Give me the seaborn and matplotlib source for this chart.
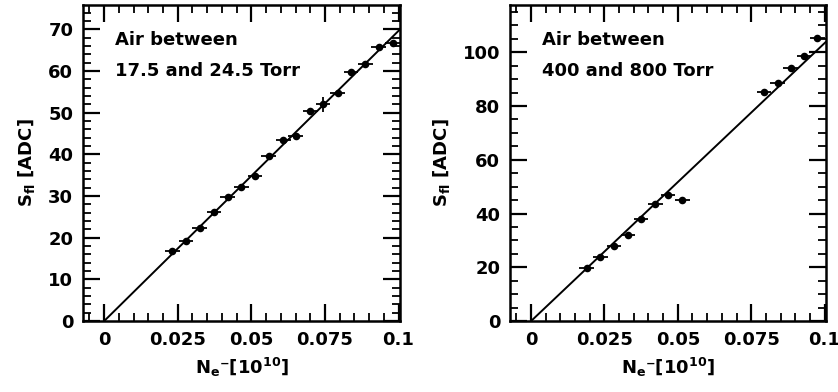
import numpy as np
import pandas as pd
import matplotlib
matplotlib.use("Agg")
import matplotlib.pyplot as plt
from matplotlib.ticker import MultipleLocator, FuncFormatter
import seaborn as sns

# ---- data ----
low_x = [0.0231, 0.0278, 0.0325, 0.0373, 0.0420, 0.0466, 0.0512, 0.0559, 0.0609,
         0.0650, 0.0700, 0.0743, 0.0793, 0.0839, 0.0887, 0.0932, 0.0980]
low_y = [16.8, 19.3, 22.3, 26.2, 29.8, 32.2, 34.7, 39.6, 43.4,
         44.3, 50.4, 52.0, 54.8, 59.7, 61.7, 65.8, 66.7]
low_yerr = [0.4, 0.4, 0.4, 0.4, 0.4, 0.4, 0.4, 0.4, 0.4,
            0.4, 0.4, 1.8, 0.4, 0.4, 0.4, 0.4, 0.4]
low_slope = 696.0

high_x = [0.0189, 0.0236, 0.0282, 0.0330, 0.0374, 0.0423, 0.0467, 0.0515,
          0.0794, 0.0840, 0.0885, 0.0930, 0.0975]
high_y = [19.6, 23.8, 28.0, 31.9, 37.9, 43.4, 46.8, 45.1,
          85.2, 88.6, 94.1, 98.8, 105.5]
high_slope = 1034.0

xerr = 0.0025
x_ticks = [0, 0.025, 0.05, 0.075, 0.1]
x_tick_labels = ["0", "0.025", "0.05", "0.075", "0.1"]
texts_low = ["Air between", "17.5 and 24.5 Torr"]
texts_high = ["Air between", "400 and 800 Torr"]

FAM = 'DejaVu Sans'
sns.set_theme(style="ticks")
plt.rcParams['font.family'] = [FAM]
plt.rcParams['font.weight'] = 'bold'
plt.rcParams['text.color'] = 'black'
plt.rcParams['axes.labelcolor'] = 'black'
plt.rcParams['xtick.color'] = 'black'
plt.rcParams['ytick.color'] = 'black'
plt.rcParams['mathtext.fontset'] = 'custom'
plt.rcParams['mathtext.rm'] = FAM + ':bold'
plt.rcParams['mathtext.it'] = FAM + ':bold'
plt.rcParams['mathtext.bf'] = FAM + ':bold'

FS = 13

fig = plt.figure(figsize=(8.38, 3.92), dpi=100)
axL = fig.add_axes([83/838, 71/392, 317/838, 316/392])
axR = fig.add_axes([510/838, 71/392, 316/838, 316/392])


def draw(ax, xs, ys, yerr, slope, ylim, ymaj, ymin, texts):
    df = pd.DataFrame({"x": xs, "y": ys})
    ax.errorbar(xs, ys, xerr=xerr, yerr=yerr, fmt='none', ecolor='black',
                elinewidth=1.3, capsize=0, zorder=2)
    sns.scatterplot(data=df, x="x", y="y", ax=ax, color='black', s=30,
                    edgecolor='black', linewidth=0, zorder=3, legend=False)
    xlim = (-0.0072, 0.1005)
    fx = np.array([0.0, xlim[1]])
    sns.lineplot(x=fx, y=slope * fx, ax=ax, color='black', linewidth=1.4,
                 zorder=4, estimator=None, sort=False)
    ax.set_xlim(*xlim)
    ax.set_ylim(*ylim)
    ax.set_xticks(x_ticks)
    ax.set_xticklabels(x_tick_labels)
    ax.xaxis.set_minor_locator(MultipleLocator(0.005))
    ax.yaxis.set_major_locator(MultipleLocator(ymaj))
    ax.yaxis.set_minor_locator(MultipleLocator(ymin))
    ax.yaxis.set_major_formatter(FuncFormatter(lambda v, p: f"{v:.0f}"))
    ax.tick_params(which='both', direction='in', top=True, right=True,
                   labelsize=FS, color='black', labelcolor='black')
    ax.tick_params(which='major', length=12, width=1.6, pad=7)
    ax.tick_params(which='minor', length=6, width=1.3)
    for sp in ax.spines.values():
        sp.set_linewidth(1.8)
        sp.set_color('black')
    for lab in ax.get_xticklabels() + ax.get_yticklabels():
        lab.set_fontweight('bold')
    ax.set_xlabel("N$_{\\mathrm{e}}$\u207b[10$^{10}$]", fontsize=FS,
                  fontweight='bold', labelpad=5, color='black')
    ax.set_ylabel(r"S$_{\mathrm{fl}}$ [ADC]", fontsize=FS, fontweight='bold',
                  labelpad=8, color='black')
    ax.text(0.10, 0.873, texts[0], transform=ax.transAxes, fontsize=FS,
            fontweight='bold', va='baseline', ha='left', color='black')
    ax.text(0.10, 0.775, texts[1], transform=ax.transAxes, fontsize=FS,
            fontweight='bold', va='baseline', ha='left', color='black')


draw(axL, low_x, low_y, low_yerr, low_slope, (0, 75.8), 10, 2, texts_low)
draw(axR, high_x, high_y, None, high_slope, (0, 117.6), 20, 5, texts_high)

fig.savefig("out.png", dpi=100)
